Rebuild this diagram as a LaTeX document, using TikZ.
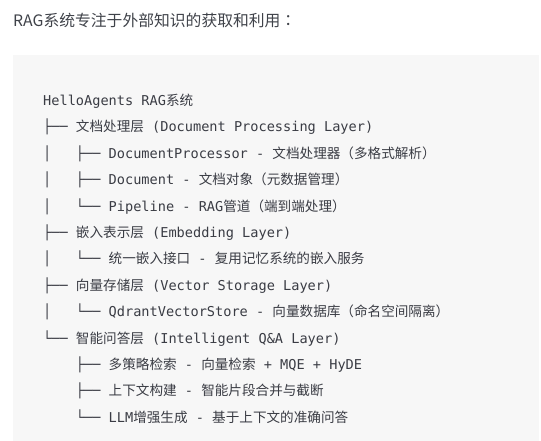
\documentclass[tikz,border=0pt]{standalone}
\usepackage{fontspec}
\setmonofont{DejaVu Sans Mono}
\newfontfamily\cjk{Noto Sans CJK SC}
\newfontfamily\cjktc{Noto Sans CJK TC}
\usetikzlibrary{positioning}

\definecolor{codebg}{HTML}{F7F7F7}
\definecolor{codefg}{HTML}{3A3C44}
\definecolor{leadfg}{HTML}{3F4249}

\newcommand{\zh}[1]{{\cjk #1}}

\tikzset{
  codeline/.style={anchor=base west, inner sep=0pt, text=codefg,
    font=\fontsize{13.6}{16}\selectfont\ttfamily},
  leadline/.style={anchor=base west, inner sep=0pt, text=leadfg,
    font=\fontsize{15.8}{19}\selectfont\cjk},
}

\begin{document}
\begin{tikzpicture}[x=1pt,y=-1pt]
  \useasboundingbox (0,0) rectangle (541,441);
  \fill[codebg] (13,55) rectangle (539,441);

  \node[leadline] at (13,27) (lead) {RAG系统专注于外部知识的获取和利用{\cjktc ：}};

  % tree lines
  \node[codeline] at (43,105.5) (root) {HelloAgents RAG\zh{系统}};
  \node[codeline] at (43,131.9) (docl) {├──~\zh{文档处理层}~(Document Processing Layer)};
  \node[codeline] at (43,158.3) (proc) {│~~~├──~DocumentProcessor - \zh{文档处理器（多格式解析）}};
  \node[codeline] at (43,184.7) (doc) {│~~~├──~Document - \zh{文档对象（元数据管理）}};
  \node[codeline] at (43,211.1) (pipe) {│~~~└──~Pipeline - RAG\zh{管道（端到端处理）}};
  \node[codeline] at (43,237.5) (embl) {├──~\zh{嵌入表示层}~(Embedding Layer)};
  \node[codeline] at (43,263.9) (emb) {│~~~└──~\zh{统一嵌入接口}~-~\zh{复用记忆系统的嵌入服务}};
  \node[codeline] at (43,290.3) (vecl) {├──~\zh{向量存储层}~(Vector Storage Layer)};
  \node[codeline] at (43,316.7) (qdr) {│~~~└──~QdrantVectorStore - \zh{向量数据库（命名空间隔离）}};
  \node[codeline] at (43,343.1) (qal) {└──~\zh{智能问答层}~(Intelligent Q\&A Layer)};
  \node[codeline] at (43,369.5) (ret) {~~~~├──~\zh{多策略检索}~-~\zh{向量检索}~+ MQE + HyDE};
  \node[codeline] at (43,395.9) (ctx) {~~~~├──~\zh{上下文构建}~-~\zh{智能片段合并与截断}};
  \node[codeline] at (43,422.3) (llm) {~~~~└──~LLM\zh{增强生成}~-~\zh{基于上下文的准确问答}};
\end{tikzpicture}
\end{document}
